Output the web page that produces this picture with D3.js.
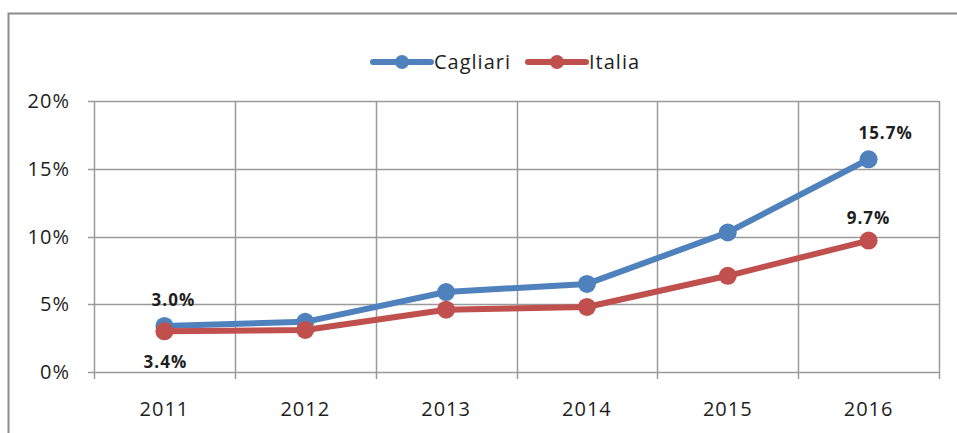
<!DOCTYPE html>
<html>
<head>
<meta charset="utf-8">
<script src="https://cdn.jsdelivr.net/npm/d3@7"></script>
<style>
  body { margin: 0; background: #fff; }
  svg text { font-family: "Open Sans", "Noto Sans", sans-serif; fill: #1e1e1e; letter-spacing: 1px; }
</style>
</head>
<body>
<svg id="chart" width="957" height="433"></svg>
<script>
const years = ["2011", "2012", "2013", "2014", "2015", "2016"];
const cagliari = [3.4, 3.7, 5.9, 6.5, 10.3, 15.7];
const italia = [3.0, 3.1, 4.6, 4.8, 7.1, 9.7];
const yTicks = [0, 5, 10, 15, 20];
const seriesNames = ["Cagliari", "Italia"];
const seriesColors = ["#4f81bd", "#c0504d"];

var svg = d3.select("#chart"),
  margin = { top: 101, right: 18, bottom: 61, left: 94 },
  width = +svg.attr("width") - margin.left - margin.right,
  height = +svg.attr("height") - margin.top - margin.bottom;

// outer chart frame (only top and left visible in the crop)
svg.append("path")
  .attr("d", "M8.5,433 V13.5 H957")
  .attr("fill", "none")
  .attr("stroke", "#8c8c8c")
  .attr("stroke-width", 2);

var x = d3.scaleBand().domain(years).range([0, width]);
var y = d3.scaleLinear().domain([0, 20]).range([height, 0]);

var g = svg.append("g")
  .attr("transform", "translate(" + margin.left + "," + margin.top + ")");

// horizontal grid
g.append("g")
  .attr("class", "grid")
  .selectAll("line")
  .data(yTicks)
  .enter()
  .append("line")
  .attr("x1", 0)
  .attr("x2", width)
  .attr("y1", d => Math.round(y(d)) + 0.5)
  .attr("y2", d => Math.round(y(d)) + 0.5)
  .attr("stroke", "#9a9a9a")
  .attr("stroke-width", 1.5);

// vertical grid on category boundaries, with tick marks below
var bounds = years.map(d => x(d)).concat([width]);
g.append("g")
  .selectAll("line")
  .data(bounds)
  .enter()
  .append("line")
  .attr("x1", d => Math.round(d) + 0.5)
  .attr("x2", d => Math.round(d) + 0.5)
  .attr("y1", 0)
  .attr("y2", height + 7)
  .attr("stroke", "#9a9a9a")
  .attr("stroke-width", 1.5);

// left tick marks
g.append("g")
  .selectAll("line")
  .data(yTicks)
  .enter()
  .append("line")
  .attr("x1", -6)
  .attr("x2", 0)
  .attr("y1", d => Math.round(y(d)) + 0.5)
  .attr("y2", d => Math.round(y(d)) + 0.5)
  .attr("stroke", "#9a9a9a")
  .attr("stroke-width", 1.5);

// y labels
g.append("g")
  .selectAll("text")
  .data(yTicks)
  .enter()
  .append("text")
  .attr("x", -24)
  .attr("y", d => y(d))
  .attr("dy", "0.35em")
  .attr("text-anchor", "end")
  .attr("font-size", 20)
  .text(d => d + "%");

// x labels
g.append("g")
  .selectAll("text")
  .data(years)
  .enter()
  .append("text")
  .attr("x", d => x(d) + x.bandwidth() / 2)
  .attr("y", height + 44)
  .attr("text-anchor", "middle")
  .attr("font-size", 20)
  .text(d => d);

var line = d3.line()
  .x((d, i) => x(years[i]) + x.bandwidth() / 2)
  .y(d => y(d));

[cagliari, italia].forEach(function(values, s) {
  g.append("path")
    .datum(values)
    .attr("fill", "none")
    .attr("stroke", seriesColors[s])
    .attr("stroke-width", 6)
    .attr("stroke-linejoin", "round")
    .attr("d", line);

  g.selectAll(".dot" + s)
    .data(values)
    .enter()
    .append("circle")
    .attr("class", "dot" + s)
    .attr("cx", (d, i) => x(years[i]) + x.bandwidth() / 2)
    .attr("cy", d => y(d))
    .attr("r", 9)
    .attr("fill", seriesColors[s]);
});

// data labels (as placed in the original: first year labels swapped above/below)
var labelSpecs = [
  { v: italia[0], ref: cagliari[0], dx: 9, dy: -20 },
  { v: cagliari[0], ref: italia[0], dx: 1, dy: 37 },
  { v: cagliari[5], ref: cagliari[5], dx: 17, dy: -20 },
  { v: italia[5], ref: italia[5], dx: 0, dy: -17 }
];
var labelIdx = [0, 0, 5, 5];
g.append("g")
  .selectAll("text")
  .data(labelSpecs)
  .enter()
  .append("text")
  .attr("x", (d, i) => x(years[labelIdx[i]]) + x.bandwidth() / 2 + d.dx)
  .attr("y", d => y(d.ref) + d.dy)
  .attr("text-anchor", "middle")
  .attr("font-size", 17)
  .attr("font-weight", "bold")
  .text(d => d.v.toFixed(1) + "%");

// legend
var legend = svg.append("g").attr("transform", "translate(373,62)");
var legendX = [0, 155];
seriesNames.forEach(function(name, s) {
  var lg = legend.append("g").attr("transform", "translate(" + legendX[s] + ",0)");
  lg.append("line")
    .attr("x1", 0).attr("x2", 58)
    .attr("y1", 0).attr("y2", 0)
    .attr("stroke", seriesColors[s])
    .attr("stroke-width", 6)
    .attr("stroke-linecap", "round");
  lg.append("circle")
    .attr("cx", 29).attr("cy", 0).attr("r", 7)
    .attr("fill", seriesColors[s]);
  lg.append("text")
    .attr("x", 61).attr("y", 0)
    .attr("dy", "0.35em")
    .attr("font-size", 20)
    .text(name);
});
</script>
</body>
</html>
